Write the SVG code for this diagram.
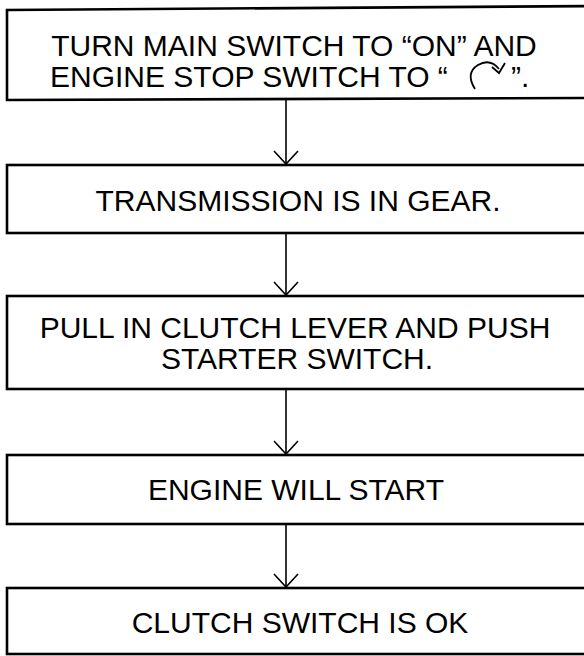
<svg xmlns="http://www.w3.org/2000/svg" width="584" height="656" viewBox="0 0 584 656">
<style>
.box{fill:#fff;stroke:#000;stroke-width:2.6}
.t{font-family:"Liberation Sans",Arial,sans-serif;font-size:30px;fill:#000;text-anchor:middle}
.c{stroke:#000;stroke-width:1.6;fill:none}
</style>
<defs>
<marker id="ah" viewBox="0 0 16 26" refX="14" refY="13" markerWidth="16" markerHeight="26" markerUnits="userSpaceOnUse" orient="auto">
<path d="M1,1 L14,13 L1,25" fill="none" stroke="#000" stroke-width="1.6"/>
</marker>
</defs>
<rect width="584" height="656" fill="#fff"/>
<g id="connectors">
<path class="c" d="M286,100 V164" marker-end="url(#ah)"/>
<path class="c" d="M286,233 V295" marker-end="url(#ah)"/>
<path class="c" d="M286,389 V454" marker-end="url(#ah)"/>
<path class="c" d="M286,524 V587" marker-end="url(#ah)"/>
</g>
<g id="n1">
<path class="box" d="M600,6 L7,10 L7,100 L600,98"/>
<text class="t" x="294" y="56">TURN MAIN SWITCH TO “ON” AND</text>
<text class="t" x="50" y="87" style="text-anchor:start">ENGINE STOP SWITCH TO “</text>
<path d="M475,89 Q465,73 478,65 Q490,58 499,69" fill="none" stroke="#000" stroke-width="1.8"/>
<path d="M492,67 L499,73 L505,63" fill="none" stroke="#000" stroke-width="1.8"/>
<text class="t" x="511" y="87" style="text-anchor:start">”.</text>
</g>
<g id="n2">
<rect class="box" x="7" y="165" width="600" height="68"/>
<text class="t" x="298" y="211">TRANSMISSION IS IN GEAR.</text>
</g>
<g id="n3">
<rect class="box" x="7" y="296" width="600" height="93"/>
<text class="t" x="295" y="338">PULL IN CLUTCH LEVER AND PUSH</text>
<text class="t" x="297" y="369">STARTER SWITCH.</text>
</g>
<g id="n4">
<rect class="box" x="7" y="455" width="600" height="69"/>
<text class="t" x="296" y="500">ENGINE WILL START</text>
</g>
<g id="n5">
<rect class="box" x="7" y="588" width="600" height="66"/>
<text class="t" x="300" y="633">CLUTCH SWITCH IS OK</text>
</g>
</svg>
